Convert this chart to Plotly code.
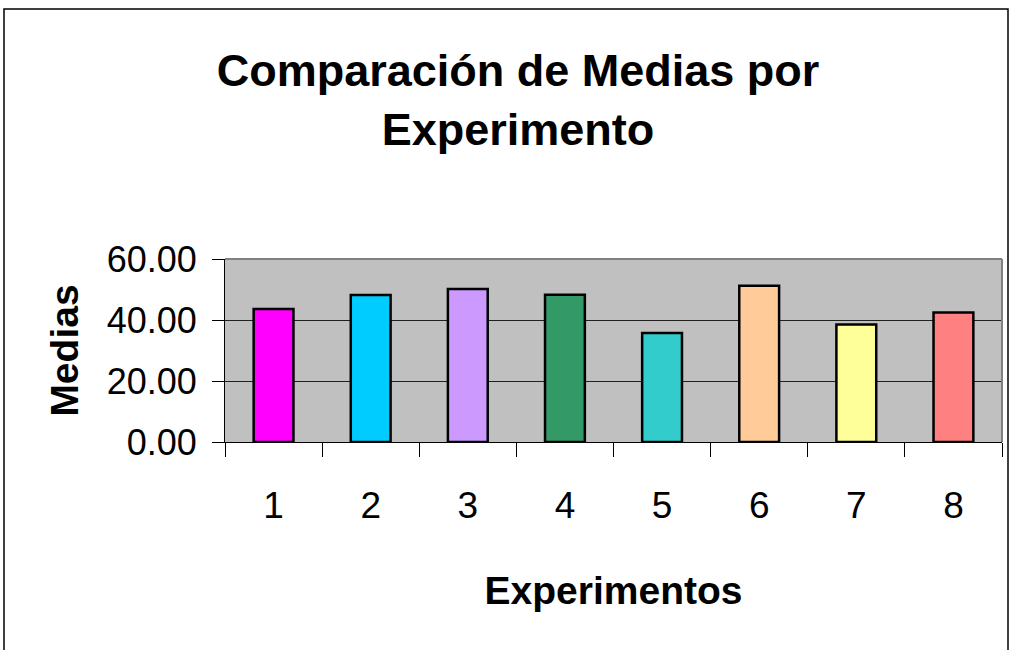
import plotly.graph_objects as go

experimentos = ["1", "2", "3", "4", "5", "6", "7", "8"]
medias = [43.6, 48.2, 50.2, 48.3, 35.7, 51.2, 38.5, 42.5]
colores = ["#FF00FF", "#00CCFF", "#CC99FF", "#339966",
           "#33CCCC", "#FFCC99", "#FFFF99", "#FF8080"]
y_ticks = [0, 20, 40, 60]
y_tick_labels = ["0.00", "20.00", "40.00", "60.00"]

FONT = "Liberation Sans, Arial, sans-serif"

fig = go.Figure()
fig.add_trace(go.Bar(
    x=experimentos, y=medias,
    marker=dict(color=colores, line=dict(color="black", width=2.5)),
    showlegend=False,
))

L, R, T, B = 225, 1002, 259, 442
W, H = 1010, 650


def px(x):
    return (x - L) / (R - L)


def py(y):
    return (B - y) / (B - T)


fig.update_layout(
    width=W, height=H,
    margin=dict(l=L, r=W - R, t=T, b=H - B, pad=0),
    paper_bgcolor="white",
    plot_bgcolor="#C0C0C0",
    bargap=0.59,
    title=dict(
        text="<b>Comparación de Medias por<br>Experimento</b>",
        font=dict(family=FONT, size=45, color="black"),
        x=518 / W, xanchor="center", xref="container",
        y=0.867, yanchor="top", yref="container",
    ),
    xaxis=dict(
        type="category", range=[-0.5, 7.5],
        showline=True, linecolor="black", linewidth=1,
        ticks="outside", ticklen=14, tickcolor="black", tickwidth=1,
        tickson="boundaries",
        tickfont=dict(family=FONT, size=37, color="black"),
        ticklabelstandoff=31,
        showgrid=False,
        title=dict(text="<b>Experimentos</b>",
                   font=dict(family=FONT, size=39, color="black"),
                   standoff=51),
    ),
    yaxis=dict(
        range=[0, 60],
        tickvals=y_ticks, ticktext=y_tick_labels,
        showline=True, linecolor="black", linewidth=1,
        ticks="outside", ticklen=12, tickcolor="black", tickwidth=1,
        tickfont=dict(family=FONT, size=36, color="black"),
        ticklabelstandoff=8,
        showgrid=True, gridcolor="#202020", gridwidth=1,
        zeroline=False,
        title=dict(text="<b>Medias</b>",
                   font=dict(family=FONT, size=39, color="black"),
                   standoff=16),
    ),
    shapes=[
        # grey top/right border of the plot area
        dict(type="line", xref="paper", yref="paper", x0=0, x1=1, y0=1, y1=1,
             line=dict(color="#808080", width=2)),
        dict(type="line", xref="paper", yref="paper", x0=1, x1=1, y0=0, y1=1,
             line=dict(color="#808080", width=2)),
        # outer chart frame
        dict(type="rect", xref="paper", yref="paper",
             x0=px(4), x1=px(1008), y0=py(660), y1=py(9),
             line=dict(color="black", width=1.5), layer="below"),
    ],
)

fig.write_html("out.html")
